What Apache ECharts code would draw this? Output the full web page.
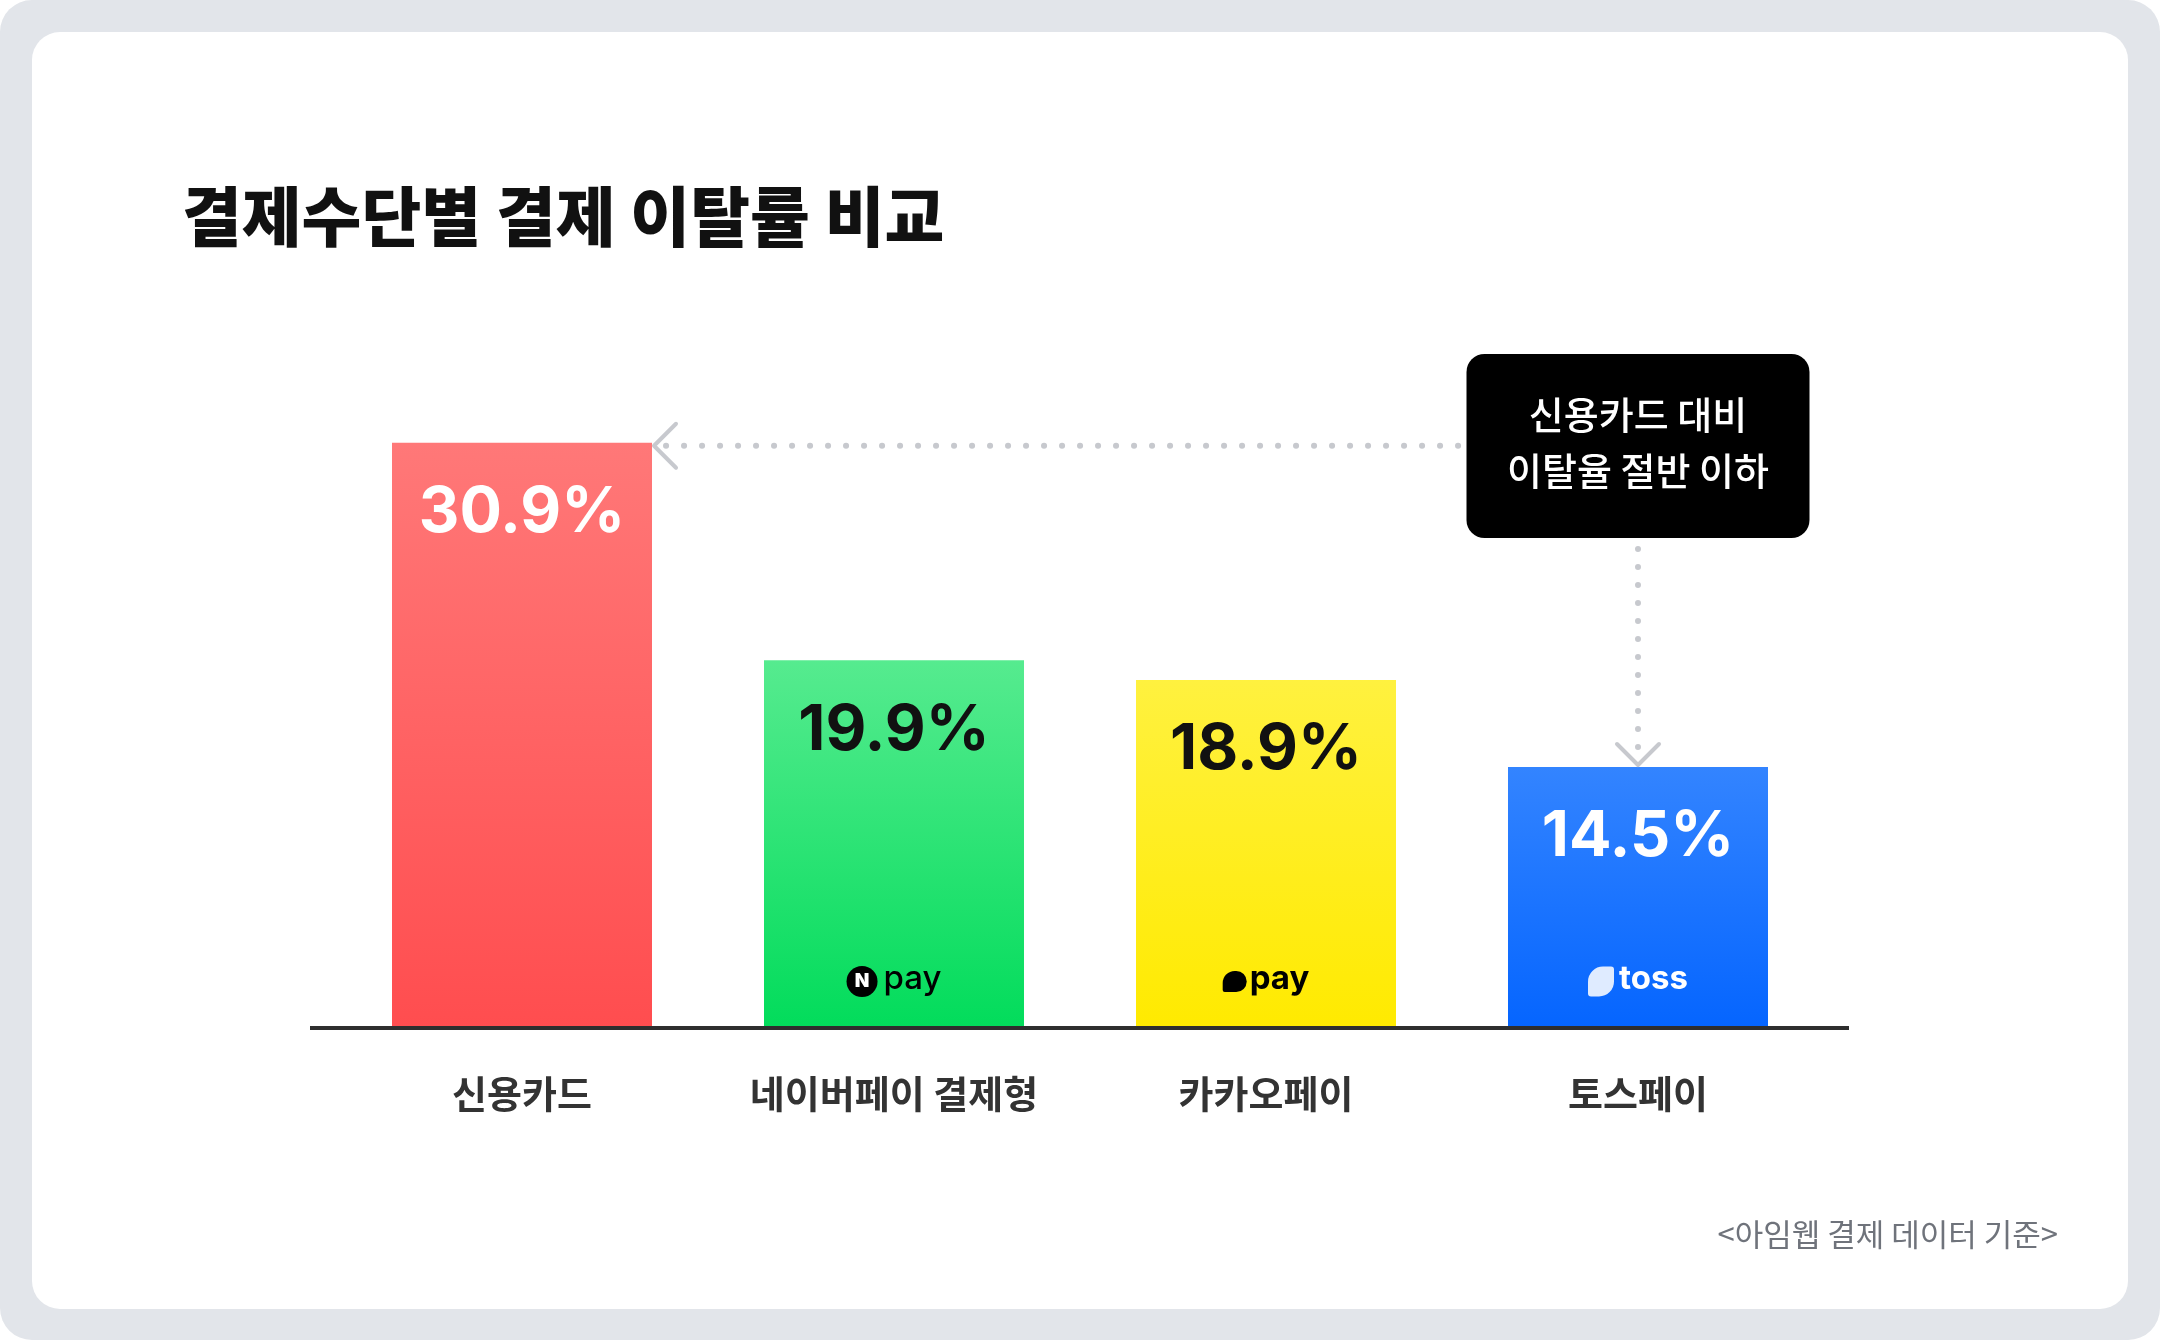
<!DOCTYPE html>
<html>
<head>
<meta charset="utf-8">
<script src="https://cdn.jsdelivr.net/npm/echarts@6/dist/echarts.min.js"></script>
<style>
html, body { margin: 0; padding: 0; background: #fff; }
#chart { width: 2160px; height: 1340px; }
</style>
</head>
<body>
<div id="chart"></div>
<script>
// data
var categories = ['신용카드', '네이버페이 결제형', '카카오페이', '토스페이'];
var rates = [30.9, 19.9, 18.9, 14.5];
var logoNames = ['', 'npay', 'kakaopay', 'toss'];
var titleText = '결제수단별 결제 이탈률 비교';
var noteLines = ['신용카드 대비', '이탈율 절반 이하'];
var sourceText = '<아임웹 결제 데이터 기준>';

// styles
var barColors = [
	['#ff7878', '#ff4d4f'],
	['#56eb8f', '#02dc5b'],
	['#fff13f', '#ffea00'],
	['#3384ff', '#0565ff']
];
var valueColors = ['#ffffff', '#111111', '#111111', '#ffffff'];
var KR = '"Noto Sans CJK KR", "Noto Sans", sans-serif';
var NUM = 'Inter, Roboto, sans-serif';
var DOT = '#c7c9ce';
var BAR_W = 260;

var myChart = echarts.init(document.getElementById('chart'));

function grad(c){
	return new echarts.graphic.LinearGradient(0, 0, 0, 1, [
		{offset: 0, color: c[0]},
		{offset: 1, color: c[1]}
	]);
}

var logoFormat = {
	npay: '{nc|N}{np|pay}',
	kakaopay: '{kb| }{kp|pay}',
	toss: '{tb| }{tp|toss}'
};
var logoRich = {
	nc: {width: 31, height: 31, lineHeight: 31, align: 'center', backgroundColor: '#000', borderRadius: 16,
		color: '#fff', fontSize: 19, fontWeight: 900, fontFamily: NUM},
	np: {fontSize: 33, fontWeight: 500, color: '#000', fontFamily: NUM, padding: [0, 0, 4, 6]},
	kb: {width: 24, height: 21, backgroundColor: '#000', borderRadius: [12, 12, 12, 2]},
	kp: {fontSize: 33, fontWeight: 700, color: '#000', fontFamily: NUM, padding: [0, 0, 4, 3]},
	tb: {width: 26, height: 30, backgroundColor: 'rgba(235,242,255,0.95)', borderRadius: [15, 3, 15, 3]},
	tp: {fontSize: 33, fontWeight: 700, color: '#fff', fontFamily: NUM, padding: [0, 0, 4, 5]}
};

myChart.setOption({
	animation: false,
	title: {
		text: titleText,
		left: 177,
		top: 173,
		textStyle: {fontSize: 65, fontWeight: 900, color: '#111', fontFamily: KR, lineHeight: 76}
	},
	grid: {left: 336, right: 336, top: 421, bottom: 312},
	xAxis: {
		type: 'category',
		data: categories,
		axisLine: {show: false},
		axisTick: {show: false},
		axisLabel: {interval: 0, margin: 47, fontSize: 38, fontWeight: 700, color: '#333', fontFamily: KR}
	},
	yAxis: {type: 'value', min: 1.3, max: 32, show: false, splitLine: {show: false}},
	series: [{
		type: 'bar',
		name: '이탈률',
		barWidth: BAR_W,
		data: rates.map(function(v, i){
			return {value: v, itemStyle: {color: grad(barColors[i])}, label: {color: valueColors[i]}};
		}),
		label: {
			show: true, position: 'insideTop', distance: 39,
			formatter: '{c}%', fontSize: 63, fontWeight: 700, fontFamily: NUM
		},
		z: 2
	}, {
		type: 'bar',
		name: 'logo',
		barWidth: BAR_W,
		barGap: '-100%',
		silent: true,
		itemStyle: {color: 'transparent'},
		data: rates.map(function(v, i){
			var f = logoFormat[logoNames[i]];
			return {value: v, label: {show: !!f, formatter: f || ''}};
		}),
		label: {show: true, position: 'insideBottom', distance: 28, rich: logoRich},
		z: 3
	}]
});

// annotation, frame and axis line
var top0 = myChart.convertToPixel({seriesIndex: 0}, [0, rates[0]]);
var top3 = myChart.convertToPixel({seriesIndex: 0}, [3, rates[3]]);
var baseY = myChart.convertToPixel({yAxisIndex: 0}, 1.3);
var firstX = myChart.convertToPixel({xAxisIndex: 0}, 0);
var lastX = myChart.convertToPixel({xAxisIndex: 0}, categories.length - 1);
var half = BAR_W / 2;

var boxW = 343, boxH = 184, boxTop = 354;
var boxLeft = top3[0] - boxW / 2;
var hY = top0[1] + 3;
var hTipX = top0[0] + half + 2;
var vTipY = top3[1] - 2;

myChart.setOption({
	graphic: [
		{type: 'rect', z: -10, shape: {x: 0, y: 0, width: 2160, height: 1340, r: 32}, style: {fill: '#e2e5ea'}},
		{type: 'rect', z: -9, shape: {x: 32, y: 32, width: 2096, height: 1277, r: 28}, style: {fill: '#fff'}},
		{type: 'line', z: 5, shape: {x1: firstX - 212, y1: baseY, x2: lastX + 211, y2: baseY},
			style: {stroke: '#2e2e2e', lineWidth: 4}},
		// horizontal dotted arrow
		{type: 'line', z: 5, shape: {x1: hTipX + 12, y1: hY, x2: boxLeft - 6, y2: hY},
			style: {stroke: DOT, lineWidth: 6, lineDash: [0.1, 17.9], lineCap: 'round'}},
		{type: 'polyline', z: 5, shape: {points: [[hTipX + 22, hY - 22], [hTipX, hY], [hTipX + 22, hY + 22]]},
			style: {stroke: DOT, lineWidth: 4, lineCap: 'round', lineJoin: 'round', fill: null}},
		// vertical dotted arrow
		{type: 'line', z: 5, shape: {x1: top3[0], y1: boxTop + boxH + 11, x2: top3[0], y2: vTipY - 16},
			style: {stroke: DOT, lineWidth: 6, lineDash: [0.1, 17.9], lineCap: 'round'}},
		{type: 'polyline', z: 5, shape: {points: [[top3[0] - 21, vTipY - 21], [top3[0], vTipY], [top3[0] + 21, vTipY - 21]]},
			style: {stroke: DOT, lineWidth: 4, lineCap: 'round', lineJoin: 'round', fill: null}},
		// note box
		{type: 'rect', z: 6, shape: {x: boxLeft, y: boxTop, width: boxW, height: boxH, r: 18}, style: {fill: '#000'}},
		{type: 'text', z: 7, x: top3[0], y: boxTop + boxH / 2 - 3,
			style: {text: noteLines.join('\n'), fill: '#fff', fontSize: 38, fontWeight: 500, fontFamily: KR,
				lineHeight: 56, align: 'center', verticalAlign: 'middle'}},
		// source
		{type: 'text', z: 5, x: 2058, y: 1234,
			style: {text: sourceText, fill: '#6f737b', fontSize: 31, fontFamily: KR, align: 'right', verticalAlign: 'middle'}}
	]
});
</script>
</body>
</html>
